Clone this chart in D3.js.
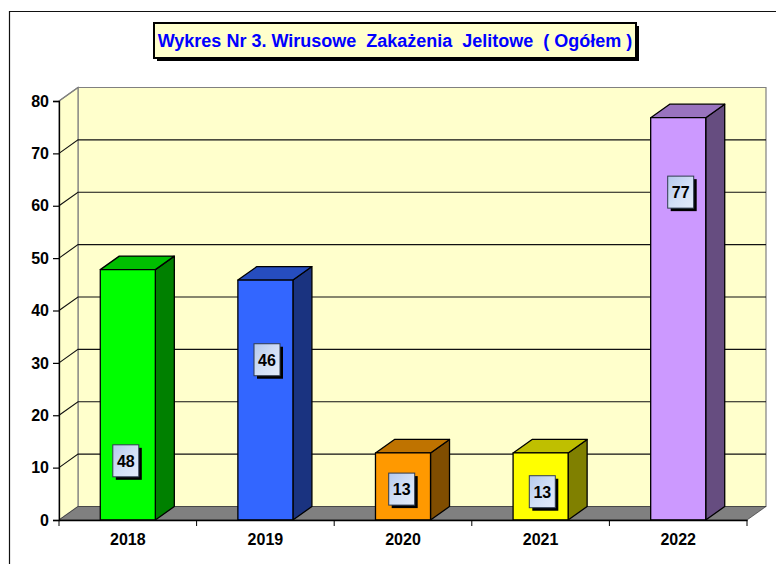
<!DOCTYPE html>
<html>
<head>
<meta charset="utf-8">
<script src="https://cdn.jsdelivr.net/npm/d3@7"></script>
<style>
body { margin: 0; background: #fff; }
text { font-family: "Liberation Sans", Arial, sans-serif; font-weight: bold; }
</style>
</head>
<body>
<div id="chart-area"></div>
<script>
var years = ["2018", "2019", "2020", "2021", "2022"];
var values = [48, 46, 13, 13, 77];
var barColours = ["#00ff00", "#3366ff", "#ff9900", "#ffff00", "#cc99ff"];
var yTicks = [0, 10, 20, 30, 40, 50, 60, 70, 80];
var titleText = "Wykres Nr 3. Wirusowe  Zakażenia  Jelitowe  ( Ogółem )";

// the value labels were dragged by hand in the original: height in axis units, sideways in px
var labelAt = [11.3, 30.6, 5.9, 5.4, 62.6];
var labelShift = [-2, 1.6, -1.3, 1.7, 2.5];

var width = 776;
var height = 564;
var plot = { left: 59, right: 747, top: 101, bottom: 520 };
var depth = { x: 19, y: 13.5 };
var barDrop = 1; // bar tops sit a pixel under the gridline scale in the original

var svg = d3.select("#chart-area").append("svg")
    .attr("width", width)
    .attr("height", height)
    .style("display", "block");

var x = d3.scaleBand()
    .domain(years)
    .range([plot.left, plot.right])
    .paddingInner(0.6)
    .paddingOuter(0.3);

var y = d3.scaleLinear()
    .domain([0, 80])
    .range([plot.bottom, plot.top]);

function points(list) {
    return list.map(function(p) { return p.join(","); }).join(" ");
}

function shade(colour, k) {
    var c = d3.rgb(colour);
    return d3.rgb(c.r * k, c.g * k, c.b * k).formatHex();
}

function barTop(d) {
    return y(d.value) + barDrop;
}

var defs = svg.append("defs");
var labelFill = defs.append("linearGradient")
    .attr("id", "label-fill")
    .attr("x1", 0).attr("y1", 0)
    .attr("x2", 1).attr("y2", 1);
labelFill.append("stop").attr("offset", "0%").attr("stop-color", "#b4c9ee");
labelFill.append("stop").attr("offset", "55%").attr("stop-color", "#d3e0f6");
labelFill.append("stop").attr("offset", "100%").attr("stop-color", "#e3ebf9");

// outer chart frame, the right and bottom sides are cut off by the picture
svg.append("path")
    .attr("d", d3.line()([[9.5, height], [9.5, 11.5], [width, 11.5]]))
    .attr("fill", "none")
    .attr("stroke", "#111")
    .attr("stroke-width", 1.2);

// walls and floor
var backLeft = plot.left + depth.x;
var backRight = plot.right + depth.x;

svg.append("polygon")
    .attr("points", points([[backLeft, y(80) - depth.y], [backRight, y(80) - depth.y],
        [backRight, y(0) - depth.y], [backLeft, y(0) - depth.y]]))
    .attr("fill", "#ffffcc")
    .attr("stroke", "#808080")
    .attr("stroke-width", 1.2);

svg.append("polygon")
    .attr("points", points([[plot.left, y(0)], [backLeft, y(0) - depth.y],
        [backLeft, y(80) - depth.y], [plot.left, y(80)]]))
    .attr("fill", "#ffffcc")
    .attr("stroke", "#808080")
    .attr("stroke-width", 1.2);

svg.append("polygon")
    .attr("points", points([[plot.left, y(0)], [backLeft, y(0) - depth.y],
        [backRight, y(0) - depth.y], [plot.right, y(0)]]))
    .attr("fill", "#808080")
    .attr("stroke", "#222")
    .attr("stroke-width", 0.6);

// gridlines go along the side wall and then along the back wall
svg.append("g").selectAll("polyline")
    .data(yTicks.slice(1, -1))
    .enter().append("polyline")
    .attr("points", function(d) {
        return points([[plot.left, y(d)], [backLeft, y(d) - depth.y], [backRight, y(d) - depth.y]]);
    })
    .attr("fill", "none")
    .attr("stroke", "#111")
    .attr("stroke-width", 1.1);

svg.append("line")
    .attr("x1", plot.left).attr("x2", backLeft)
    .attr("y1", y(80)).attr("y2", y(80) - depth.y)
    .attr("stroke", "#808080")
    .attr("stroke-width", 1.2);

// bars
var data = years.map(function(year, i) {
    return { year: year, value: values[i], colour: barColours[i], at: labelAt[i], shift: labelShift[i] };
});

var bars = svg.append("g").selectAll("g")
    .data(data)
    .enter().append("g")
    .attr("stroke", "#000")
    .attr("stroke-width", 1.3)
    .attr("stroke-linejoin", "round");

bars.append("polygon")
    .attr("points", function(d) {
        var x1 = x(d.year) + x.bandwidth();
        return points([[x1, barTop(d)], [x1 + depth.x, barTop(d) - depth.y],
            [x1 + depth.x, y(0) - depth.y], [x1, y(0)]]);
    })
    .attr("fill", function(d) { return shade(d.colour, 0.5); });

bars.append("polygon")
    .attr("points", function(d) {
        var x0 = x(d.year);
        var x1 = x0 + x.bandwidth();
        return points([[x0, barTop(d)], [x0 + depth.x, barTop(d) - depth.y],
            [x1 + depth.x, barTop(d) - depth.y], [x1, barTop(d)]]);
    })
    .attr("fill", function(d) { return shade(d.colour, 0.75); });

bars.append("rect")
    .attr("x", function(d) { return x(d.year); })
    .attr("y", barTop)
    .attr("width", x.bandwidth())
    .attr("height", function(d) { return y(0) - barTop(d); })
    .attr("fill", function(d) { return d.colour; });

// axes
var yAxisCall = d3.axisLeft(y)
    .tickValues(yTicks)
    .tickSize(6)
    .tickPadding(4);
var yAxis = svg.append("g")
    .attr("class", "y-axis")
    .attr("transform", "translate(" + plot.left + ",0)")
    .call(yAxisCall);

var xAxisCall = d3.axisBottom(x)
    .tickSize(0)
    .tickPadding(14);
var xAxis = svg.append("g")
    .attr("class", "x-axis")
    .attr("transform", "translate(0," + plot.bottom + ")")
    .call(xAxisCall);

// category ticks sit between the bars, not under them
xAxis.selectAll(".edge")
    .data(d3.range(years.length + 1))
    .enter().append("line")
    .attr("class", "edge")
    .attr("x1", function(i) { return plot.left + i * x.step(); })
    .attr("x2", function(i) { return plot.left + i * x.step(); })
    .attr("y1", 0)
    .attr("y2", 6)
    .attr("stroke", "#000");

svg.selectAll(".domain")
    .attr("stroke", "#000")
    .attr("stroke-width", 1.3);
svg.selectAll(".tick line")
    .attr("stroke", "#000")
    .attr("stroke-width", 1.2);
svg.selectAll(".tick text")
    .attr("fill", "#000")
    .style("font-size", "16px");

// value labels
var labelW = 26;
var labelH = 32;
var labels = svg.append("g").selectAll("g")
    .data(data)
    .enter().append("g")
    .attr("transform", function(d) {
        return "translate(" + (x(d.year) + x.bandwidth() / 2 + d.shift) + "," + y(d.at) + ")";
    });

labels.append("rect")
    .attr("x", -labelW / 2 + 3)
    .attr("y", -labelH / 2 + 3)
    .attr("width", labelW)
    .attr("height", labelH)
    .attr("fill", "#000");

labels.append("rect")
    .attr("x", -labelW / 2)
    .attr("y", -labelH / 2)
    .attr("width", labelW)
    .attr("height", labelH)
    .attr("fill", "url(#label-fill)")
    .attr("stroke", "#2f3b4f")
    .attr("stroke-width", 1);

labels.append("text")
    .attr("text-anchor", "middle")
    .attr("y", 6)
    .attr("fill", "#000")
    .style("font-size", "16px")
    .text(function(d) { return d.value; });

// title box
var titleBox = svg.append("g");
titleBox.append("rect")
    .attr("x", 157).attr("y", 26)
    .attr("width", 482).attr("height", 35)
    .attr("fill", "#000");
titleBox.append("rect")
    .attr("x", 154).attr("y", 23)
    .attr("width", 482).attr("height", 35)
    .attr("fill", "#ffffcc")
    .attr("stroke", "#000")
    .attr("stroke-width", 2);
titleBox.append("text")
    .attr("x", 395)
    .attr("y", 46.5)
    .attr("text-anchor", "middle")
    .attr("fill", "#0000ff")
    .style("font-size", "18px")
    .style("white-space", "pre")
    .text(titleText);
</script>
</body>
</html>
